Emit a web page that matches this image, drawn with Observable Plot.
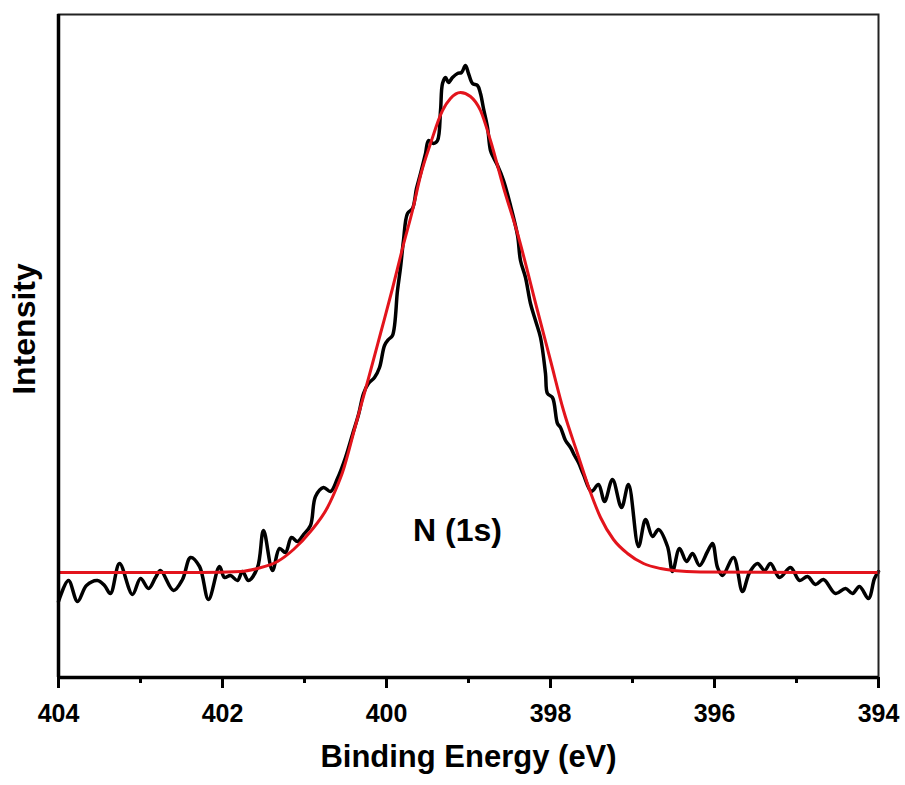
<!DOCTYPE html>
<html>
<head>
<meta charset="utf-8">
<script src="https://cdn.jsdelivr.net/npm/d3@7"></script>
<script src="https://cdn.jsdelivr.net/npm/@observablehq/plot@0.6"></script>
<style>
  html, body { margin: 0; padding: 0; background: white; }
</style>
</head>
<body>
<div id="chart"></div>
<script>
// Measured spectrum (black), binding energy in eV
const energyMeasured = [
  404.000, 403.878, 403.768, 403.659, 403.524, 403.439, 403.366, 403.256, 403.098, 403.000,
  402.902, 402.817, 402.756, 402.598, 402.488, 402.390, 402.280, 402.171, 402.037, 401.976,
  401.902, 401.817, 401.756, 401.683, 401.573, 401.500, 401.390, 401.305, 401.232, 401.159,
  401.085, 401.012, 400.927, 400.866, 400.768, 400.683, 400.598, 400.500, 400.415, 400.341,
  400.280, 400.220, 400.146, 400.085, 400.024, 399.976, 399.927, 399.866, 399.829, 399.793,
  399.744, 399.683, 399.634, 399.585, 399.524, 399.488, 399.427, 399.378, 399.341, 399.317,
  399.280, 399.244, 399.195, 399.134, 399.085, 399.037, 399.000, 398.951, 398.890, 398.854,
  398.817, 398.768, 398.732, 398.695, 398.646, 398.573, 398.488, 398.402, 398.366, 398.305,
  398.244, 398.183, 398.122, 398.061, 398.037, 397.976, 397.915, 397.878, 397.817, 397.756,
  397.707, 397.659, 397.598, 397.500, 397.415, 397.341, 397.244, 397.134, 397.049, 396.927,
  396.841, 396.756, 396.683, 396.573, 396.512, 396.427, 396.341, 396.268, 396.183, 396.085,
  396.024, 395.963, 395.902, 395.768, 395.659, 395.573, 395.476, 395.390, 395.317, 395.207,
  395.073, 394.963, 394.866, 394.768, 394.671, 394.524, 394.402, 394.317, 394.232, 394.122,
  394.049, 394.000
];
// Measured intensity (arbitrary units)
const intensityMeasured = [
  76, 97, 76, 92, 97, 92, 84, 114, 83, 99,
  89, 100, 107, 87, 98, 120, 111, 78, 111, 100,
  102, 97, 106, 97, 110, 147, 107, 129, 125, 140,
  136, 143, 152, 181, 190, 186, 199, 220, 243, 263,
  284, 294, 300, 310, 332, 338, 342, 387, 410, 437,
  464, 469, 489, 504, 524, 537, 534, 537, 567, 594,
  600, 595, 600, 604, 605, 612, 604, 594, 592, 584,
  569, 550, 527, 520, 512, 497, 472, 442, 417, 400,
  374, 357, 340, 304, 284, 280, 254, 250, 237, 230,
  222, 215, 203, 186, 193, 176, 198, 170, 193, 131,
  158, 141, 148, 131, 106, 129, 116, 124, 112, 126,
  134, 110, 102, 120, 86, 105, 114, 107, 114, 100,
  110, 97, 101, 93, 98, 84, 89, 84, 91, 79,
  99, 106
];
// Fitted peak (red)
const energyFit = [
  404.000, 402.268, 401.780, 401.573, 401.329, 401.134, 400.927, 400.720, 400.598, 400.537,
  400.378, 400.220, 400.073, 399.927, 399.793, 399.683, 399.585, 399.463, 399.317, 399.220,
  399.098, 398.976, 398.854, 398.732, 398.573, 398.402, 398.159, 398.000, 397.841, 397.671,
  397.512, 397.390, 397.232, 397.061, 396.866, 396.659, 396.500, 396.171, 394.000
];
const intensityFit = [
  105, 105, 106, 109, 116, 128, 146, 170, 192, 205,
  252, 299, 344, 389, 433, 467, 502, 534, 567, 579,
  585, 581, 567, 537, 490, 444, 367, 317, 267, 224,
  185, 160, 138, 124, 114, 109, 107, 105.5, 105
];
const majorTicks = [404, 402, 400, 398, 396, 394];
const minorTicks = [403, 401, 399, 397, 395];
const xTitle = "Binding Energy (eV)";
const yTitle = "Intensity";
const peakLabel = "N (1s)";
const peakLabelPos = {x: 399.134, y: 147};

const chart = Plot.plot({
  width: 905,
  height: 785,
  marginLeft: 58,
  marginRight: 27,
  marginTop: 14,
  marginBottom: 108,
  x: {domain: [404, 394]},
  y: {domain: [0, 663], axis: null},
  style: {
    fontFamily: "'Liberation Sans', Arial, Helvetica, sans-serif",
    fontWeight: "bold",
    background: "white",
    color: "black"
  },
  marks: [
    Plot.line(energyMeasured, {
      x: energyMeasured, y: intensityMeasured,
      stroke: "black", strokeWidth: 3.5, curve: "catmull-rom"
    }),
    Plot.line(energyFit, {
      x: energyFit, y: intensityFit,
      stroke: "#e3141c", strokeWidth: 3, curve: "monotone-x"
    }),
    Plot.frame({stroke: "#222", strokeWidth: 2}),
    Plot.ruleX([404], {stroke: "black", strokeWidth: 3.5}),
    Plot.ruleY([0], {stroke: "black", strokeWidth: 3.5}),
    Plot.axisX({
      ticks: majorTicks, tickSize: 11, tickPadding: 16, strokeWidth: 3,
      fontSize: 25, fontWeight: "bold", tickFormat: d => String(d), label: null
    }),
    Plot.axisX({
      ticks: minorTicks, tickSize: 6, strokeWidth: 3, tickFormat: () => "", label: null
    }),
    Plot.text([xTitle], {
      frameAnchor: "bottom", dy: 89, text: d => d, fontSize: 31, fontWeight: "bold"
    }),
    Plot.text([yTitle], {
      frameAnchor: "left", dx: -34, dy: -17, rotate: -90, textAnchor: "middle",
      text: d => d, fontSize: 32, fontWeight: "bold"
    }),
    Plot.text([peakLabel], {
      x: [peakLabelPos.x], y: [peakLabelPos.y], text: d => d,
      fontSize: 32, fontWeight: "bold"
    })
  ]
});
document.getElementById("chart").appendChild(chart);
</script>
</body>
</html>
